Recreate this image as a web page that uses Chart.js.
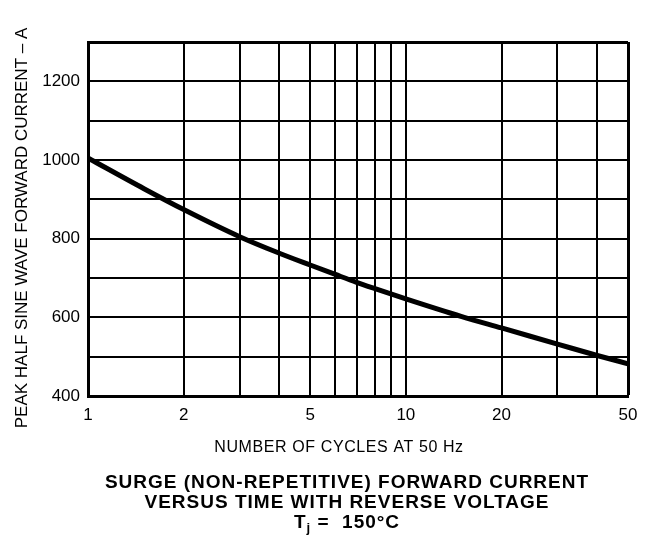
<!DOCTYPE html>
<html>
<head>
<meta charset="utf-8">
<script src="https://cdn.jsdelivr.net/npm/chart.js@4.4.1/dist/chart.umd.min.js"></script>
<style>
  html, body { margin: 0; padding: 0; background: #fff; }
  #wrap { width: 648px; height: 541px; }
</style>
</head>
<body>
<div id="wrap"><canvas id="grafico"></canvas></div>
<script>
// Curva de corriente de sobrecarga
const ciclos = [1, 1.5, 2, 3, 4, 5, 6, 7, 8, 10, 15, 20, 30, 40, 50];
const corriente = [1005, 927, 874, 805, 763, 733, 709, 689, 673, 647, 602, 573, 532, 503, 482];

// Ticks y etiquetas
const xGrid = [1, 2, 3, 4, 5, 6, 7, 8, 9, 10, 20, 30, 40, 50];
const xEtiquetas = [1, 2, 5, 10, 20, 50];
const yEtiquetas = [400, 600, 800, 1000, 1200];

const tituloX = 'NUMBER OF CYCLES AT 50 Hz';
const tituloY = 'PEAK HALF SINE WAVE FORWARD CURRENT – A';
const tituloLineas = [
    'SURGE (NON-REPETITIVE) FORWARD CURRENT',
    'VERSUS TIME WITH REVERSE VOLTAGE'
];

const fuente = '"Liberation Sans", Arial, Helvetica, sans-serif';

// Dibuja los títulos de ejes y el título inferior (con subíndice en Tj)
const titulos = {
    id: 'titulos',
    afterDraw(chart) {
        const ctx = chart.ctx;
        const cx = 347;
        ctx.save();
        ctx.fillStyle = '#000';
        ctx.textBaseline = 'middle';
        ctx.textAlign = 'center';

        // título eje Y (rotado)
        ctx.save();
        ctx.translate(22, 228);
        ctx.rotate(-Math.PI / 2);
        ctx.font = '17px ' + fuente;
        ctx.fillText(tituloY, 0, 0);
        ctx.restore();

        // título eje X
        ctx.font = '16px ' + fuente;
        ctx.letterSpacing = '0.6px';
        ctx.fillText(tituloX, 339, 448);

        // título principal
        ctx.font = 'bold 19px ' + fuente;
        ctx.letterSpacing = '1px';
        ctx.fillText(tituloLineas[0], cx, 483);
        ctx.fillText(tituloLineas[1], cx, 503);

        // Tj = 150°C
        const partes = [['T', 19, 0], ['j', 13, 5], [' =  150°C', 19, 0]];
        let ancho = 0;
        partes.forEach(p => { ctx.font = 'bold ' + p[1] + 'px ' + fuente; ancho += ctx.measureText(p[0]).width; });
        let x = cx - ancho / 2;
        ctx.textAlign = 'left';
        partes.forEach(p => {
            ctx.font = 'bold ' + p[1] + 'px ' + fuente;
            ctx.fillText(p[0], x, 523 + p[2]);
            x += ctx.measureText(p[0]).width;
        });
        ctx.restore();
    }
};

const ctx = document.getElementById('grafico').getContext('2d');
new Chart(ctx, {
    type: 'line',
    data: {
        datasets: [{
            data: ciclos.map((c, i) => ({ x: c, y: corriente[i] })),
            borderColor: '#000',
            borderWidth: 5,
            pointRadius: 0,
            cubicInterpolationMode: 'monotone',
            fill: false
        }]
    },
    options: {
        responsive: true,
        maintainAspectRatio: false,
        animation: false,
        layout: { padding: { top: 42, right: 20, left: 0, bottom: 93 } },
        plugins: {
            legend: { display: false },
            tooltip: { enabled: false }
        },
        scales: {
            x: {
                type: 'logarithmic',
                min: 1,
                max: 50,
                afterBuildTicks: scale => { scale.ticks = xGrid.map(v => ({ value: v })); },
                afterFit: scale => { scale.height = 52; },
                ticks: {
                    autoSkip: false,
                    maxRotation: 0,
                    padding: 9,
                    color: '#000',
                    font: { family: fuente, size: 17 },
                    callback: v => xEtiquetas.includes(v) ? String(v) : ''
                },
                grid: {
                    color: '#000',
                    lineWidth: c => c.tick && c.tick.value === 50 ? 3 : 2,
                    drawTicks: false
                },
                border: { color: '#000', width: 3 }
            },
            y: {
                min: 400,
                max: 1300,
                afterFit: scale => { scale.width = 88; },
                ticks: {
                    stepSize: 100,
                    padding: 8,
                    color: '#000',
                    font: { family: fuente, size: 17 },
                    callback: v => yEtiquetas.includes(v) ? String(v) : ''
                },
                grid: {
                    color: '#000',
                    lineWidth: c => c.tick && c.tick.value === 1300 ? 3 : 2,
                    drawTicks: false
                },
                border: { color: '#000', width: 3 }
            }
        }
    },
    plugins: [titulos]
});
</script>
</body>
</html>
